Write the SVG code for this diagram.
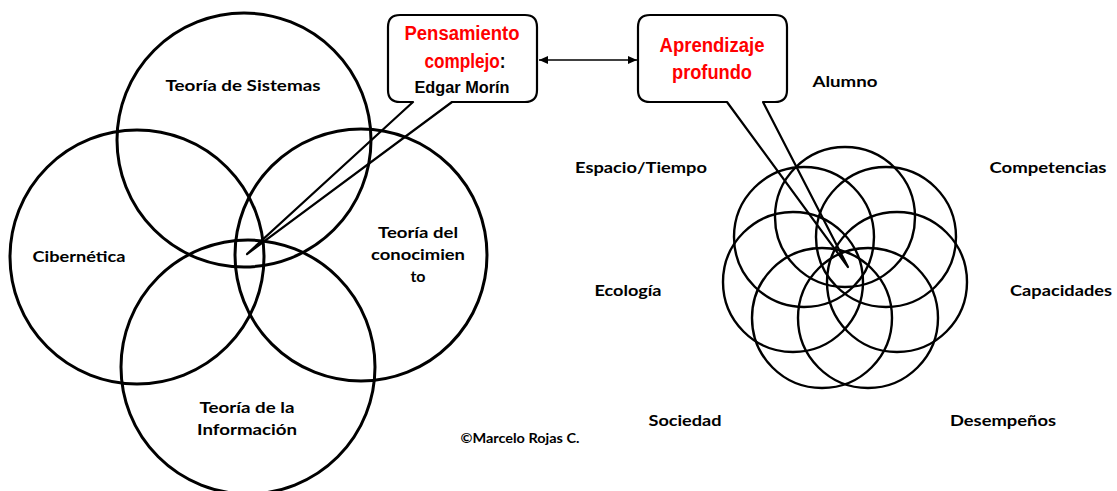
<svg xmlns="http://www.w3.org/2000/svg" width="1117" height="491" viewBox="0 0 1117 491">
<style>
.c{fill:none;stroke:#000;stroke-width:3}
.f{fill:none;stroke:#000;stroke-width:2.4}
.l{font-family:Lato,"Liberation Sans",sans-serif;font-weight:bold;font-size:16px;fill:#000;text-anchor:middle}
.s{font-size:14px}
.cb{fill:none;stroke:#000;stroke-width:2.2;stroke-linejoin:round}
.ct{font-family:"Liberation Sans",Arial,sans-serif;font-weight:bold;text-anchor:middle}
.r{fill:#ff0000}
.k{fill:#000}
</style>
<defs>
<marker id="ah" markerWidth="10" markerHeight="8" refX="9" refY="4" orient="auto-start-reverse" markerUnits="userSpaceOnUse">
<path d="M0,0 L9,4 L0,8 Z" fill="#000"/>
</marker>
</defs>
<g id="venn-left">
<circle id="c-sistemas" class="c" cx="244" cy="140" r="127"/>
<circle id="c-cibernetica" class="c" cx="137" cy="257" r="127"/>
<circle id="c-conocimiento" class="c" cx="361" cy="255" r="126"/>
<circle id="c-informacion" class="c" cx="248" cy="367" r="127"/>
</g>
<g id="flower">
<circle class="f" cx="845" cy="217" r="70"/>
<circle class="f" cx="886" cy="237" r="70"/>
<circle class="f" cx="897" cy="282" r="70"/>
<circle class="f" cx="868" cy="318" r="70"/>
<circle class="f" cx="822" cy="318" r="70"/>
<circle class="f" cx="793" cy="282" r="70"/>
<circle class="f" cx="804" cy="237" r="70"/>
</g>
<g id="labels-left">
<text class="l" x="243" y="91" textLength="155" lengthAdjust="spacingAndGlyphs">Teoría de Sistemas</text>
<text class="l" x="79" y="262" textLength="93" lengthAdjust="spacingAndGlyphs">Cibernética</text>
<text class="l" x="418" y="238" textLength="80" lengthAdjust="spacingAndGlyphs">Teoría del</text>
<text class="l" x="418" y="260" textLength="94" lengthAdjust="spacingAndGlyphs">conocimien</text>
<text class="l" x="418" y="282">to</text>
<text class="l" x="247" y="413" textLength="95" lengthAdjust="spacingAndGlyphs">Teoría de la</text>
<text class="l" x="247" y="435" textLength="100" lengthAdjust="spacingAndGlyphs">Información</text>
</g>
<g id="labels-right">
<text class="l" x="845" y="87" textLength="65" lengthAdjust="spacingAndGlyphs">Alumno</text>
<text class="l" x="641" y="173" textLength="132" lengthAdjust="spacingAndGlyphs">Espacio/Tiempo</text>
<text class="l" x="1048" y="173" textLength="117" lengthAdjust="spacingAndGlyphs">Competencias</text>
<text class="l" x="628" y="296" textLength="67" lengthAdjust="spacingAndGlyphs">Ecología</text>
<text class="l" x="1061" y="296" textLength="102" lengthAdjust="spacingAndGlyphs">Capacidades</text>
<text class="l" x="685" y="426" textLength="73" lengthAdjust="spacingAndGlyphs">Sociedad</text>
<text class="l" x="1003" y="426" textLength="106" lengthAdjust="spacingAndGlyphs">Desempeños</text>
</g>
<g id="copyright">
<text class="l s" x="520" y="443" textLength="119" lengthAdjust="spacingAndGlyphs">©Marcelo Rojas C.</text>
</g>
<g id="connectors">
<line x1="539" y1="60" x2="637" y2="60" stroke="#000" stroke-width="1.3" marker-start="url(#ah)" marker-end="url(#ah)"/>
</g>
<g id="callout-pensamiento">
<path class="cb" d="M400,15 H525 Q537,15 537,27 V90 Q537,102 525,102 H452 L247,254 L413,102 H400 Q388,102 388,90 V27 Q388,15 400,15 Z"/>
<text class="ct r" x="462" y="40" font-size="20" textLength="115" lengthAdjust="spacingAndGlyphs">Pensamiento</text>
<text class="ct" transform="translate(465,68) scale(0.86,1)" x="0" y="0" font-size="20"><tspan class="r">complejo</tspan><tspan class="k">:</tspan></text>
<text class="ct k" x="462" y="93" font-size="16" textLength="95" lengthAdjust="spacingAndGlyphs">Edgar Morín</text>
</g>
<g id="callout-aprendizaje">
<path class="cb" d="M650,15 H775 Q787,15 787,27 V90 Q787,102 775,102 H763 L848,267 L727,102 H650 Q638,102 638,90 V27 Q638,15 650,15 Z"/>
<text class="ct r" x="712" y="52" font-size="20" textLength="105" lengthAdjust="spacingAndGlyphs">Aprendizaje</text>
<text class="ct r" x="712" y="79" font-size="20" textLength="80" lengthAdjust="spacingAndGlyphs">profundo</text>
</g>
</svg>
